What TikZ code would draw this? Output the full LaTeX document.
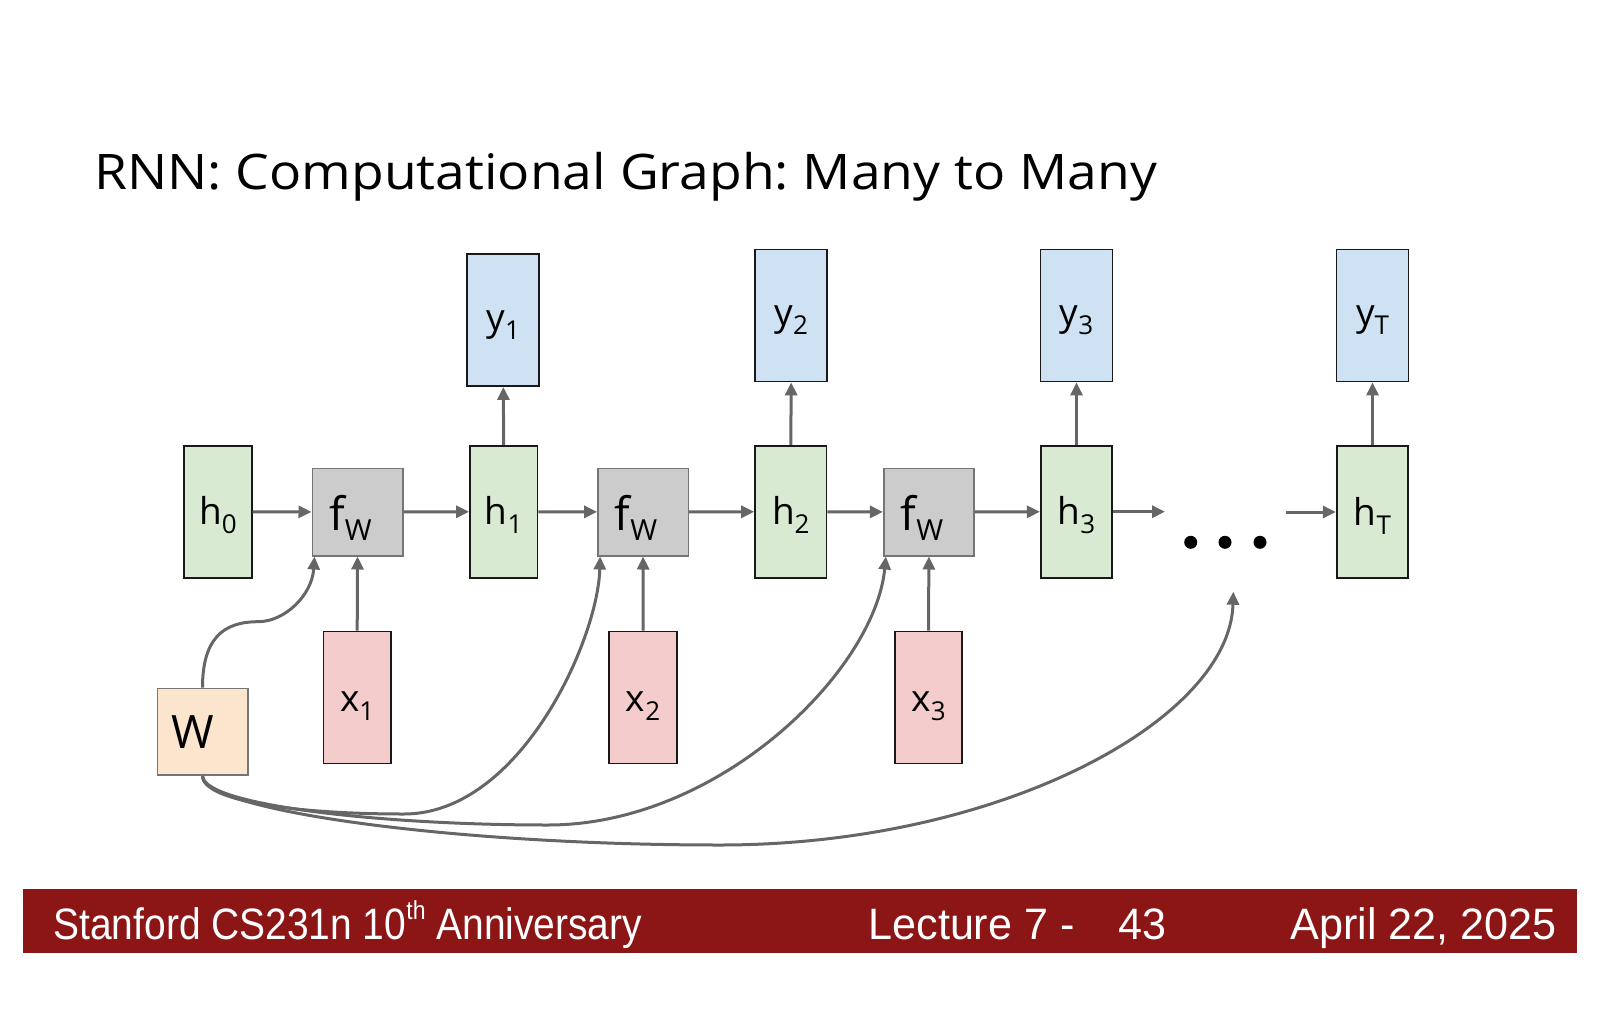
\documentclass[tikz,border=0pt]{standalone}
\usepackage{fontspec}
\usetikzlibrary{arrows.meta,calc}
\setmainfont{Open Sans}
\newfontfamily\titlefont[FakeStretch=1.09]{Open Sans}
\newfontfamily\footfontA[FakeStretch=0.885]{Liberation Sans}
\newfontfamily\footfontB[FakeStretch=0.98]{Liberation Sans}
\definecolor{hgreen}{HTML}{D9EAD3}
\definecolor{yblue}{HTML}{CFE2F3}
\definecolor{xred}{HTML}{F4CCCC}
\definecolor{fgray}{HTML}{CCCCCC}
\definecolor{worange}{HTML}{FCE5CD}
\definecolor{lgray}{HTML}{666666}
\definecolor{cardinal}{RGB}{140,21,22}
\newcommand\lbl[2]{\fontsize{37}{37}\selectfont #1\raisebox{-9pt}{\fontsize{26}{26}\selectfont #2}}
\newcommand\flbl{\fontsize{46}{46}\selectfont f\raisebox{-10pt}{\fontsize{29}{29}\selectfont W}\hspace*{14pt}}
\frenchspacing
\begin{document}
\begin{tikzpicture}[x=1pt,y=-1pt,
  boxbase/.style={draw=black!90, line width=1.8pt, inner sep=0pt, text depth=0pt, minimum height=132pt},
  hbox/.style={boxbase, fill=hgreen, minimum width=67.5pt, text height=26pt},
  ybox/.style={boxbase, fill=yblue, minimum width=72pt, text height=20pt},
  xbox/.style={boxbase, fill=xred, minimum width=67.5pt, text height=27pt},
  fbox/.style={draw=lgray!90, line width=1.6pt, fill=fgray, inner sep=0pt, minimum width=90.4pt, minimum height=87.4pt, text depth=0pt, text height=37pt},
  wbox/.style={draw=lgray!90, line width=1.6pt, fill=worange, inner sep=0pt, minimum width=90.4pt, minimum height=86.7pt, text depth=0pt, text height=33pt},
  arr/.style={draw=lgray, line width=3pt, -{Triangle[length=13pt,width=12pt]}},
  dotnode/.style={circle, fill=black, inner sep=0pt, minimum size=13pt},
  foot/.style={text=white, inner sep=0pt}
]
\useasboundingbox (0,0) rectangle (1600,1035);

% title
\node[anchor=base west, inner sep=0pt, font=\titlefont\fontsize{49}{49}\selectfont\frenchspacing] (title) at (94,189.3) {RNN: Computational Graph: Many to Many};

% hidden states
\node[hbox] (h0) at (218,511.7) {\lbl{h}{0}};
\node[hbox] (h1) at (503.7,511.7) {\lbl{h}{1}};
\node[hbox, minimum width=71.5pt] (h2) at (790.8,511.7) {\lbl{h}{2}};
\node[hbox, minimum width=71.5pt] (h3) at (1076.5,511.7) {\lbl{h}{3}};
\node[hbox, minimum width=71.5pt] (hT) at (1372.5,512) {\lbl{h}{T}};

% outputs
\node[ybox] (y1) at (503.3,320) {\lbl{y}{1}};
\node[ybox] (y2) at (791.2,315.5) {\lbl{y}{2}};
\node[ybox] (y3) at (1076.5,315.5) {\lbl{y}{3}};
\node[ybox] (yT) at (1372.5,315.5) {\lbl{y}{T}};

% f_W
\node[fbox] (f1) at (357.5,512) {\flbl};
\node[fbox] (f2) at (643.1,512) {\flbl};
\node[fbox] (f3) at (928.9,512) {\flbl};

% inputs
\node[xbox] (x1) at (357.2,697.5) {\lbl{x}{1}};
\node[xbox] (x2) at (643,697.5) {\lbl{x}{2}};
\node[xbox] (x3) at (928.5,697.5) {\lbl{x}{3}};

% W
\node[wbox] (W) at (202.5,731.7) {\fontsize{46}{46}\selectfont W\hspace*{19pt}};

% dots
\node[dotnode] (d1) at (1190.7,542.3) {};
\node[dotnode] (d2) at (1225,542.3) {};
\node[dotnode] (d3) at (1260,542.3) {};
\coordinate (dotsout) at (1165,511.7);
\coordinate (dotsin) at (1286,512);
\coordinate (dotsW) at (1233.3,591.7);

% horizontal chain
\draw[arr] (h0) -- (f1);
\draw[arr] (f1) -- (h1);
\draw[arr] (h1) -- (f2);
\draw[arr] (f2) -- (h2);
\draw[arr] (h2) -- (f3);
\draw[arr] (f3) -- (h3);
\draw[arr] (h3.east) -- (dotsout);
\draw[arr] (dotsin) -- (hT.west |- dotsin);

% outputs
\draw[arr] (h1.north) -- (y1.south);
\draw[arr] (h2.north) -- (y2.south);
\draw[arr] (h3.north) -- (y3.south);
\draw[arr] (hT.north) -- (yT.south);

% inputs
\draw[arr] (x1.north) -- (f1.south);
\draw[arr] (x2.north) -- (f2.south);
\draw[arr] (x3.north) -- (f3.south);

% W connections
\coordinate (t1) at ($(f1.south west)+(3,0)$);
\coordinate (t2) at ($(f2.south west)+(3,0)$);
\coordinate (t3) at ($(f3.south west)+(3,0)$);
\draw[arr] (W.north) .. controls (202.5,640) and (222,621.7) .. (258,621.7)
   .. controls (285,621.7) and (312,595) .. (t1);
\draw[arr] (W.south) .. controls (202.5,800) and (290,814) .. (404,814)
   .. controls (520,814) and (598,640) .. (t2);
\draw[arr] (W.south) .. controls (202.5,805) and (380,825) .. (548,825)
   .. controls (720,825) and (875,670) .. (t3);
\draw[arr] (W.south) .. controls (202.5,810) and (450,845) .. (720,845)
   .. controls (1000,845) and (1230,720) .. (dotsW);

% footer
\fill[cardinal] (23.3,889) rectangle (1576.7,953.3);
\node[foot, anchor=base west, font=\footfontA\fontsize{44}{44}\selectfont] (f-left) at (53.3,939.3) {Stanford CS231n 10\raisebox{20pt}{\fontsize{26}{26}\selectfont th} Anniversary};
\node[foot, anchor=base west, font=\footfontB\fontsize{44}{44}\selectfont] (f-mid) at (868.3,939.3) {Lecture 7 -\hspace*{44pt}43};
\node[foot, anchor=base east, font=\footfontB\fontsize{44}{44}\selectfont] (f-right) at (1556.7,939.3) {April 22, 2025};
\end{tikzpicture}
\end{document}
